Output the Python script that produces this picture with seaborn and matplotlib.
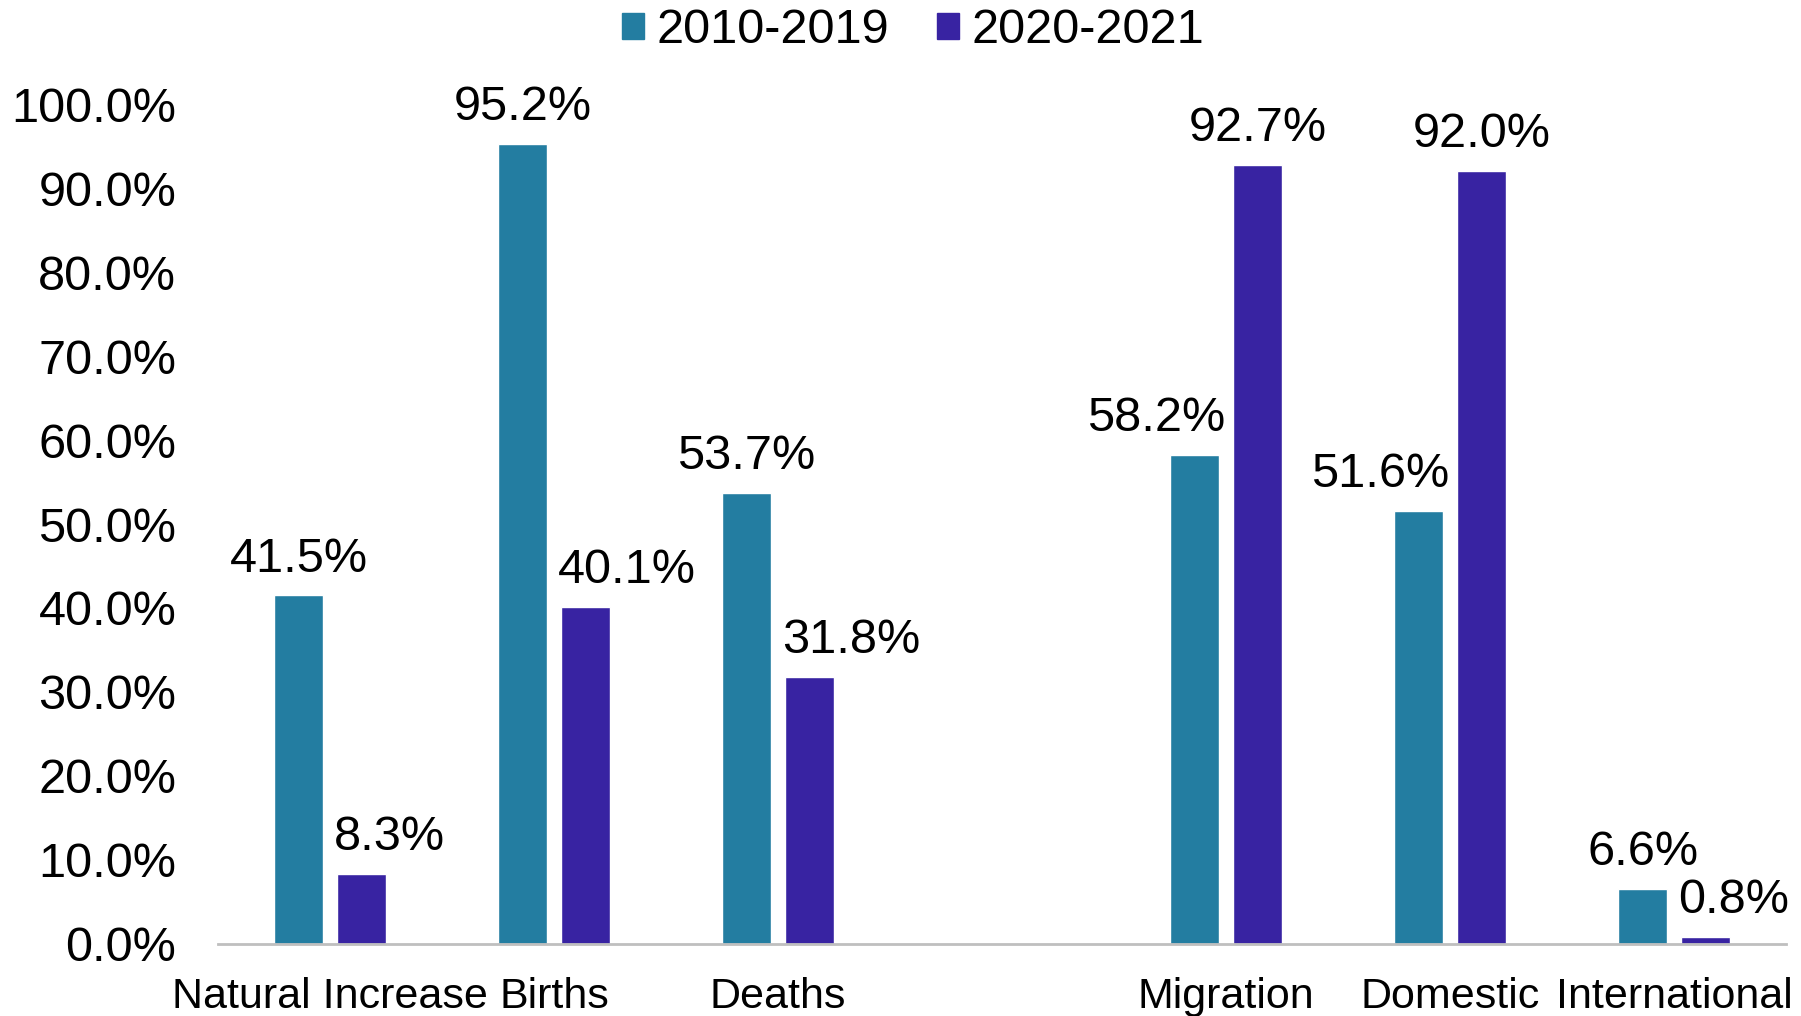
import matplotlib
matplotlib.use("Agg")
import matplotlib.pyplot as plt
import seaborn as sns
import pandas as pd

categorias = ["Natural Increase", "Births", "Deaths", " ", "Migration", "Domestic", "International"]
periodos = ["2010-2019", "2020-2021"]
valores_2010_2019 = [41.5, 95.2, 53.7, None, 58.2, 51.6, 6.6]
valores_2020_2021 = [8.3, 40.1, 31.8, None, 92.7, 92.0, 0.8]
cores = ["#237DA1", "#3823A2"]

linhas = []
for cat, v1, v2 in zip(categorias, valores_2010_2019, valores_2020_2021):
    if v1 is not None:
        linhas.append({"categoria": cat, "periodo": periodos[0], "valor": v1})
        linhas.append({"categoria": cat, "periodo": periodos[1], "valor": v2})
df = pd.DataFrame(linhas)

sns.set_style("white")
plt.rcParams["font.family"] = ["Liberation Sans", "DejaVu Sans"]
plt.rcParams["text.color"] = "black"
plt.rcParams["xtick.color"] = "black"
plt.rcParams["ytick.color"] = "black"

fig = plt.figure(figsize=(18.01, 10.16), dpi=100)
ax = fig.add_axes([0.121, 0.0709, 0.8707, 0.8267])

sns.barplot(data=df, x="categoria", y="valor", hue="periodo", order=categorias,
            hue_order=periodos, palette=cores, width=0.56, gap=0.21,
            saturation=1, ax=ax, legend=False)

# rótulos: o da barra mais baixa é empurrado para fora, como no Excel
barras_a, barras_b = ax.containers[0], ax.containers[1]
for ba, bb in zip(barras_a, barras_b):
    va, vb = ba.get_height(), bb.get_height()
    xa_c = ba.get_x() + ba.get_width() / 2
    xb_c = bb.get_x() + bb.get_width() / 2
    if va >= vb:
        pos_a, ha_a, dx_a = xa_c, "center", 0
        pos_b, ha_b, dx_b = bb.get_x(), "left", -2
    else:
        pos_a, ha_a, dx_a = ba.get_x() + ba.get_width(), "right", 4
        pos_b, ha_b, dx_b = xb_c, "center", 0
    ax.annotate(f"{va:.1f}%", (pos_a, va), xytext=(dx_a, 10), textcoords="offset points",
                ha=ha_a, va="bottom", fontsize=35)
    ax.annotate(f"{vb:.1f}%", (pos_b, vb), xytext=(dx_b, 10), textcoords="offset points",
                ha=ha_b, va="bottom", fontsize=35)

ax.set_ylim(0, 100)
ax.set_xlim(-0.5, 6.5)
ax.set_yticks(range(0, 101, 10))
ax.set_yticklabels([f"{t:.1f}%" for t in range(0, 101, 10)])
ax.tick_params(axis="y", labelsize=35, pad=30, length=0)
ax.tick_params(axis="x", labelsize=31, pad=24, length=0)
ax.set_xlabel("")
ax.set_ylabel("")

for lado in ["top", "right", "left"]:
    ax.spines[lado].set_visible(False)
ax.spines["bottom"].set_color("#BFBFBF")
ax.spines["bottom"].set_linewidth(2)

handles = [plt.Rectangle((0, 0), 1, 1, color=c) for c in cores]
fig.legend(handles, periodos, loc="upper center", bbox_to_anchor=(0.507, 1.035),
           ncol=2, frameon=False, fontsize=35, handlelength=0.45,
           handleheight=0.45, handletextpad=0.25, columnspacing=1.0)

plt.savefig("out.png", dpi=100)
